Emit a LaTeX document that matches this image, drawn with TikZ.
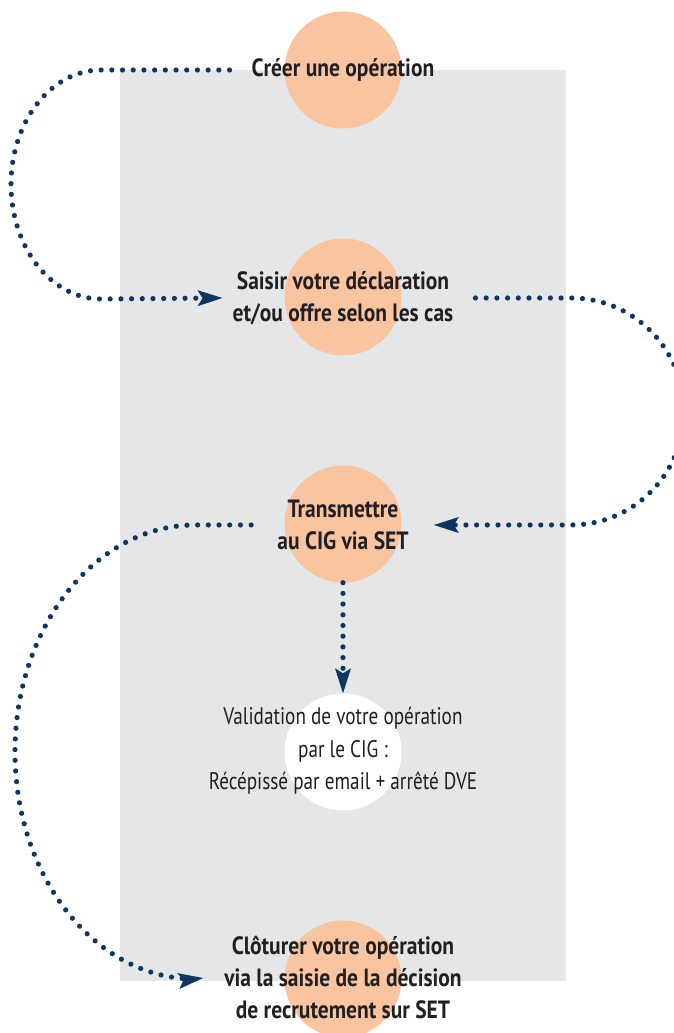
\documentclass[tikz,border=0pt]{standalone}
\usepackage{fontspec}
\setmainfont{PT Sans}[FakeStretch=0.80,BoldFeatures={FakeStretch=0.86}]
\usetikzlibrary{arrows.meta,calc}
\definecolor{peach}{HTML}{F9C4A0}
\definecolor{panel}{HTML}{E5E6E8}
\definecolor{navy}{HTML}{0E3661}
\definecolor{ink}{HTML}{231F20}
\tikzset{
  disc/.style={circle,fill=peach,minimum size=117pt,inner sep=0pt},
  wdisc/.style={circle,fill=white,minimum size=117pt,inner sep=0pt},
  lbl/.style={align=center,text=ink,inner sep=0pt,font=\bfseries\fontsize{25}{32}\selectfont},
  lblr/.style={align=center,text=ink,inner sep=0pt,font=\fontsize{24}{32.5}\selectfont},
  conn/.style={navy,line width=5.2pt,line cap=round,dash pattern=on 0pt off 10.7pt},
  tip/.style={-{Stealth[length=25pt,width=16pt,inset=5pt,line width=0pt]}}
}
\begin{document}
\begin{tikzpicture}[x=1pt,y=1pt]
\useasboundingbox (0,0) rectangle (673,1033);
\fill[panel] (120,52) rectangle (566,963);
\node[disc] (c1) at (343,963) {};
\node[disc] (c2) at (343,736) {};
\node[disc] (c3) at (343,509) {};
\node[wdisc] (c4) at (343,281) {};
\node[disc] (c5) at (343,54) {};
\node[lbl] (t1) at (343,963) {Créer une opération};
\node[lbl] (t2) at (343,735) {Saisir votre déclaration\\et/ou offre selon les cas};
\node[lbl] (t3) at (343,508) {Transmettre\\au CIG via SET};
\node[lblr] (t4) at (343,282) {Validation de votre opération\\par le CIG :\\Récépissé par email + arrêté DVE};
\node[lbl] (t5) at (343,55) {Clôturer votre opération\\via la saisie de la décision\\de recrutement sur SET};
% connectors
\draw[conn,tip] ([xshift=-22pt]t1.west) -- (101,963) arc[start angle=90,end angle=270,x radius=90,y radius=114.5] -- ([xshift=-10pt]t2.west);
\draw[conn,tip] ([xshift=22pt]t2.east) -- (571,735) arc[start angle=90,end angle=-90,x radius=113,y radius=113.5] -- ([xshift=25pt]t3.east);
\draw[conn,tip] ([xshift=-26pt]t3.west) -- (195,508) arc[start angle=90,end angle=270,x radius=180,y radius=227] -- ([xshift=-21pt]t5.west);
\draw[conn,tip] (c3.south) -- (c4.north);
\end{tikzpicture}
\end{document}
